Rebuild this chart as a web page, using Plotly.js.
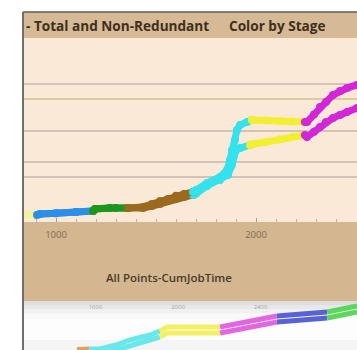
<!DOCTYPE html>
<html>
<head>
<meta charset="utf-8">
<script src="https://cdn.plot.ly/plotly-3.0.1.min.js"></script>
<style>html,body{margin:0;padding:0;background:#fff;}#chart{width:357px;height:350px;}</style>
</head>
<body>
<div id="chart"></div>
<script>
// ---------------- data ----------------
// Main chart: x = All Points-CumJobTime, y = cumulative value (Total / Non-Redundant), stage per point
const totalX = [845, 905, 920, 1000, 1100, 1185, 1195, 1270, null, 1295, 1360, 1435, 1480, 1520, 1560, 1600, 1640, 1685,
  1700, 1755, 1820, 1855, 1870, 1880, 1895, 1905, 1920, 1955, 1980,
  1985, 2050, 2120, 2180, 2245,
  2255, 2290, 2320, 2350, 2385, 2420, 2455, 2505];
const totalY = [3.8, 3.8, 4.3, 4.8, 5.4, 6.0, 7.1, 7.6, null, 7.6, 7.6, 8.2, 9.8, 11.4, 12.5, 14.2, 15.2, 16.3,
  17.4, 21.2, 24.5, 28.3, 33.7, 39.1, 44.6, 50.0, 52.7, 54.3, 55.4,
  55.4, 55.2, 54.9, 54.6, 54.3,
  54.3, 58.4, 62.5, 65.2, 69.0, 71.2, 72.8, 74.5];
const totalStage = ['S0','S0','S1','S1','S1','S1','S2','S2','S2','S2','S2','S3','S3','S3','S3','S3','S3','S3',
  'S4','S4','S4','S4','S4','S4','S4','S4','S4','S4','S4',
  'S5','S5','S5','S5','S5',
  'S6','S6','S6','S6','S6','S6','S6','S6'];

const nonRedX = [845, 905, 920, 1000, 1100, 1185, 1195, 1270, null, 1295, 1360, 1435, 1480, 1520, 1560, 1600, 1640, 1685,
  1700, 1755, 1820, 1860, 1880, 1890, 1900, 1920, 1970,
  1985, 2050, 2120, 2180, 2245,
  2255, 2290, 2320, 2350, 2385, 2420, 2455, 2505];
const nonRedY = [3.8, 3.8, 4.3, 4.8, 5.4, 6.0, 7.1, 7.6, null, 7.6, 7.6, 7.6, 8.7, 9.8, 11.4, 12.5, 13.6, 14.7,
  15.4, 19.6, 22.8, 25.5, 31.0, 36.4, 39.1, 40.2, 41.8,
  42.4, 43.5, 45.0, 46.2, 47.3,
  46.2, 49.0, 51.6, 54.3, 56.5, 58.2, 59.8, 62.0];
const nonRedStage = ['S0','S0','S1','S1','S1','S1','S2','S2','S2','S2','S2','S3','S3','S3','S3','S3','S3','S3',
  'S4','S4','S4','S4','S4','S4','S4','S4','S4',
  'S5','S5','S5','S5','S5',
  'S6','S6','S6','S6','S6','S6','S6','S6'];

// Overview strip (its own axis)
const ovTotalX = [1510, 1570, 1621, 1700, 1767, 1864, 1912, 1946, 2080, 2204, 2301, 2398, 2480, 2592, 2723, 2810, 2868];
const ovTotalY = [0.5, 1.0, 1.0, 5, 10, 15, 19, 23, 23, 23, 27, 31, 34, 36, 38, 42, 44];
const ovTotalStage = ['S3','S3','S4','S4','S4','S4','S4','S5','S5','S5','S6','S6','S6','S7','S7','S8','S8'];
const ovNonRedX = [1510, 1570, 1621, 1700, 1767, 1864, 1912, 1946, 2080, 2204, 2301, 2398, 2480, 2592, 2723, 2810, 2868];
const ovNonRedY = [-5, -5, -4, 0, 4, 9, 13, 17, 17, 17, 21, 25, 28, 30, 32, 36, 38];
const ovNonRedStage = ['S3','S3','S4','S4','S4','S4','S4','S5','S5','S5','S6','S6','S6','S7','S7','S8','S8'];

const mainTickVals = [1000, 2000];
const mainTickText = ['1000', '2000'];
const ovTickVals = [1600, 2000, 2400];
const ovTickText = ['1600', '2000', '2400'];
const gridMajor = [24.5, 32.6, 49.5, 75.0];
const gridMinor = [66.8];

// ---------------- styles ----------------
const mainColors = {S0:'#f3f39c', S1:'#2a8fe6', S2:'#1e961e', S3:'#9b6a1e', S4:'#34e2ec', S5:'#f1ef30', S6:'#d226d8', S7:'#4b57cf', S8:'#4fcf4f'};
const ovColors = {S0:'#f3f3b0', S1:'#6aaef0', S2:'#5ab85a', S3:'#e0a060', S4:'#68e8ea', S5:'#f4f064', S6:'#e266e2', S7:'#5862d4', S8:'#5cd65c'};

function buildTraces(xs, ys, st, xa, ya, colors, width, msize) {
  const out = [];
  let cur = null, prevPt = null;
  for (let i = 0; i < xs.length; i++) {
    if (!cur || st[i] !== cur.stage) {
      cur = {stage: st[i], x: [], y: []};
      if (prevPt) { cur.x.push(prevPt[0]); cur.y.push(prevPt[1]); }
      out.push(cur);
    }
    cur.x.push(xs[i]); cur.y.push(ys[i]);
    if (xs[i] !== null) prevPt = [xs[i], ys[i]];
  }
  return out.map(s => ({
    type: 'scatter', mode: msize ? 'lines+markers' : 'lines',
    x: s.x, y: s.y, xaxis: xa, yaxis: ya, name: s.stage,
    line: {color: colors[s.stage], width: width, shape: 'linear'},
    marker: {color: colors[s.stage], size: msize || 1},
    connectgaps: false, showlegend: false, hoverinfo: 'skip'
  }));
}

const traces = [].concat(
  buildTraces(ovNonRedX, ovNonRedY, ovNonRedStage, 'x2', 'y2', ovColors, 5, 0),
  buildTraces(ovTotalX, ovTotalY, ovTotalStage, 'x2', 'y2', ovColors, 5, 0),
  buildTraces(nonRedX, nonRedY, nonRedStage, 'x', 'y', mainColors, 7, 8),
  buildTraces(totalX, totalY, totalStage, 'x', 'y', mainColors, 7, 8)
);

// ---------------- layout helpers (pixel -> paper) ----------------
const W = 357, H = 350;
const px = v => v / W;
const py = v => 1 - v / H;
function rect(x0, y0, x1, y1, fill) {
  return {type:'rect', xref:'paper', yref:'paper', x0:px(x0), x1:px(x1), y0:py(y1), y1:py(y0),
    fillcolor: fill, line:{width:0}, layer:'below'};
}
function line(x0, y0, x1, y1, color, w) {
  return {type:'line', xref:'paper', yref:'paper', x0:px(x0), x1:px(x1), y0:py(y0), y1:py(y1),
    line:{color: color, width: w}, layer:'above'};
}

const shapes = [
  rect(23, 12, 357, 38, '#d6ba95'),
  rect(23, 38, 357, 222, '#fae9d6'),
  rect(23, 222, 357, 301, '#d4b690'),
  rect(23, 301, 357, 305, '#dedede'),
  rect(23, 305, 357, 309, '#e8e8e8'),
  rect(23, 309, 357, 313, '#f0f0f0'),
  rect(23, 313, 357, 319, '#f8f8f8'),
  rect(23, 319, 357, 340, '#fdfdfd'),
  rect(23, 340, 357, 350, '#f5f5f5'),
  line(23, 12, 357, 12, '#5a5a5a', 1.5),
  line(23, 12, 23, 350, '#6e6e6e', 2)
];

const layout = {
  width: W, height: H,
  margin: {l:0, r:0, t:0, b:0},
  paper_bgcolor: '#ffffff',
  plot_bgcolor: 'rgba(0,0,0,0)',
  showlegend: false,
  shapes: shapes,
  xaxis: {
    domain: [px(24), 1], range: [840, 2505], anchor: 'y',
    showgrid: false, zeroline: false, showline: false,
    tickmode: 'array', tickvals: mainTickVals, ticktext: mainTickText,
    ticks: 'inside', ticklen: 4, tickcolor: '#b09c84', tickwidth: 1,
    minor: {dtick: 100, ticks: 'inside', ticklen: 3, tickcolor: '#c0ad94', showgrid: false},
    tickfont: {family: 'Open Sans', size: 9.5, color: '#7d6b55'},
    ticklabelstandoff: 5
  },
  yaxis: {
    domain: [py(222), py(38)], range: [0, 100], anchor: 'x',
    showticklabels: false, zeroline: false, showline: false, ticks: '',
    tickmode: 'array', tickvals: gridMajor,
    showgrid: true, gridcolor: '#d3c3b5', gridwidth: 2,
    minor: {tickmode: 'array', tickvals: gridMinor, showgrid: true, gridcolor: '#dbcb9e', gridwidth: 2, ticks: ''}
  },
  xaxis2: {
    domain: [px(24), 1], range: [1253, 2868], anchor: 'y2', side: 'top',
    showgrid: false, zeroline: false, showline: false, ticks: '',
    tickmode: 'array', tickvals: ovTickVals, ticktext: ovTickText,
    ticklabelposition: 'inside',
    tickfont: {family: 'Open Sans', size: 6, color: '#aaa49c'}
  },
  yaxis2: {
    domain: [0, py(302)], range: [0, 48], anchor: 'x2',
    visible: false, showgrid: false, zeroline: false
  },
  annotations: [
    {xref:'paper', yref:'paper', x:px(24), y:py(25.5), xanchor:'left', yanchor:'middle', showarrow:false,
     text:'- Total and Non-Redundant', font:{family:'Open Sans', size:13.6, weight:'bold', color:'#3e2f1e'}},
    {xref:'paper', yref:'paper', x:px(227), y:py(25.5), xanchor:'left', yanchor:'middle', showarrow:false,
     text:'Color by Stage', font:{family:'Open Sans', size:13.6, weight:'bold', color:'#3e2f1e'}},
    {xref:'paper', yref:'paper', x:px(169), y:py(277), xanchor:'center', yanchor:'middle', showarrow:false,
     text:'All Points-CumJobTime', font:{family:'Open Sans', size:11.5, weight:600, color:'#4a3a28'}}
  ]
};

Plotly.newPlot('chart', traces, layout, {staticPlot: true, displayModeBar: false});
</script>
</body>
</html>
